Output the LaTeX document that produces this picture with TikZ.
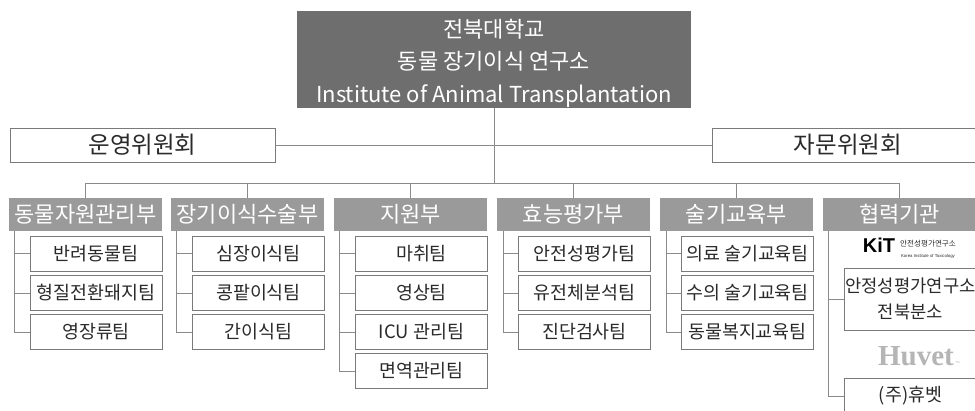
\documentclass[tikz,border=0pt]{standalone}
\usepackage{fontspec}
\setmainfont{Noto Sans CJK KR}
\newfontfamily\logosans{Liberation Sans}
\newfontfamily\logoserif{Liberation Serif}
\usetikzlibrary{positioning}

\definecolor{topgray}{HTML}{6E6E6E}
\definecolor{deptgray}{HTML}{9A9A9A}
\definecolor{linegray}{HTML}{8A8A8A}
\definecolor{boxgray}{HTML}{7A7A7A}
\definecolor{textgray}{HTML}{2A2A2A}
\definecolor{logogray}{HTML}{B5B5B5}

\begin{document}
\begin{tikzpicture}[x=1pt,y=-1pt,
  conn/.style={draw=linegray,line width=0.9pt},
  board/.style={draw=boxgray,fill=white,text=textgray,line width=0.9pt,minimum height=34pt,inner sep=0pt,font=\fontsize{23.5}{26}\selectfont},
  head/.style={fill=deptgray,text=white,minimum width=153pt,minimum height=33pt,inner sep=0pt,font=\fontsize{22}{24}\selectfont},
  team/.style={draw=boxgray,fill=white,text=textgray,line width=0.9pt,minimum width=132pt,minimum height=35pt,inner sep=0pt,font=\fontsize{18.4}{20}\selectfont}]
\clip (0,0) rectangle (975,410);

% institute and boards
\node[fill=topgray,minimum width=394pt,minimum height=97pt,inner sep=0pt] (inst) at (494,59.5) {};
\node[text=white,inner sep=0pt,align=center,font=\fontsize{22}{32.5}\selectfont] (insttitle) at (494,63) {전북대학교\\동물 장기이식 연구소\\Institute of Animal Transplantation};
\node[board,minimum width=265pt] (oper) at (142.5,145) {운영위원회};
\node[board,minimum width=272pt] (advis) at (848,145) {자문위원회};
\coordinate (bus) at (494,183);

% departments
\node[head] (d1) at (85.5,214.5) {동물자원관리부};
\node[head] (d2) at (247.5,214.5) {장기이식수술부};
\node[head] (d3) at (410.5,214.5) {지원부};
\node[head] (d4) at (573.5,214.5) {효능평가부};
\node[head] (d5) at (736.5,214.5) {술기교육부};
\node[head] (d6) at (899.5,214.5) {협력기관};

% teams
\node[team] (t11) at (96,253.5) {반려동물팀};
\node[team] (t12) at (96,293) {형질전환돼지팀};
\node[team] (t13) at (96,332) {영장류팀};
\node[team] (t21) at (258.5,253.5) {심장이식팀};
\node[team] (t22) at (258.5,293) {콩팥이식팀};
\node[team] (t23) at (258.5,332) {간이식팀};
\node[team] (t31) at (421.5,253.5) {마취팀};
\node[team] (t32) at (421.5,293) {영상팀};
\node[team] (t33) at (421.5,332) {ICU 관리팀};
\node[team] (t34) at (421.5,371) {면역관리팀};
\node[team] (t41) at (584.5,253.5) {안전성평가팀};
\node[team] (t42) at (584.5,293) {유전체분석팀};
\node[team] (t43) at (584.5,332) {진단검사팀};
\node[team] (t51) at (747.5,253.5) {의료 술기교육팀};
\node[team] (t52) at (747.5,293) {수의 술기교육팀};
\node[team] (t53) at (747.5,332) {동물복지교육팀};
\node[team,minimum height=62pt,align=center,font=\fontsize{17.7}{26}\selectfont] (t61) at (910.5,299) {안정성평가연구소\\전북분소};
\node[team,minimum height=35pt] (t62) at (910.5,396) {(주)휴벳};

% partner logos
\node[inner sep=0pt,font=\logosans\bfseries\fontsize{20}{20}\selectfont] (kitmark) at (879,245) {KiT};
\node[inner sep=0pt,align=center,text=textgray] (kitname) at (928,249.5) {{\fontsize{7.6}{8}\selectfont 안전성평가연구소}\\[-1.5pt]{\logosans\fontsize{4.3}{5}\selectfont Korea Institute of Toxicology}};
\node[inner sep=0pt,text=logogray,font=\logoserif\bfseries\fontsize{29}{29}\selectfont] (huvet) at (916,356) {Huvet};
\node[inner sep=0pt,text=logogray,font=\logosans\fontsize{3}{3}\selectfont,anchor=south west] (huvettm) at ([xshift=1pt,yshift=2pt]huvet.base east) {TM};

% connectors
\path[conn] (inst.south) -- (bus);
\path[conn] (oper.east) -- (advis.west);
\path[conn] (d1.north |- bus) -- (d6.north |- bus);
\path[conn] (d1.north |- bus) -- (d1.north);
\path[conn] (d2.north |- bus) -- (d2.north);
\path[conn] (d3.north |- bus) -- (d3.north);
\path[conn] (d4.north |- bus) -- (d4.north);
\path[conn] (d5.north |- bus) -- (d5.north);
\path[conn] (d6.north |- bus) -- (d6.north);

\path[conn] ([xshift=6pt]d1.south west) |- (t13.west);
\path[conn] ([xshift=6pt]d1.south west |- t11.west) -- (t11.west);
\path[conn] ([xshift=6pt]d1.south west |- t12.west) -- (t12.west);
\path[conn] ([xshift=6pt]d2.south west) |- (t23.west);
\path[conn] ([xshift=6pt]d2.south west |- t21.west) -- (t21.west);
\path[conn] ([xshift=6pt]d2.south west |- t22.west) -- (t22.west);
\path[conn] ([xshift=6pt]d3.south west) |- (t34.west);
\path[conn] ([xshift=6pt]d3.south west |- t31.west) -- (t31.west);
\path[conn] ([xshift=6pt]d3.south west |- t32.west) -- (t32.west);
\path[conn] ([xshift=6pt]d3.south west |- t33.west) -- (t33.west);
\path[conn] ([xshift=7pt]d4.south west) |- (t43.west);
\path[conn] ([xshift=7pt]d4.south west |- t41.west) -- (t41.west);
\path[conn] ([xshift=7pt]d4.south west |- t42.west) -- (t42.west);
\path[conn] ([xshift=7pt]d5.south west) |- (t53.west);
\path[conn] ([xshift=7pt]d5.south west |- t51.west) -- (t51.west);
\path[conn] ([xshift=7pt]d5.south west |- t52.west) -- (t52.west);
\path[conn] ([xshift=6pt]d6.south west) |- (t62.west);
\path[conn] ([xshift=6pt]d6.south west |- t61.west) -- (t61.west);
\end{tikzpicture}
\end{document}
